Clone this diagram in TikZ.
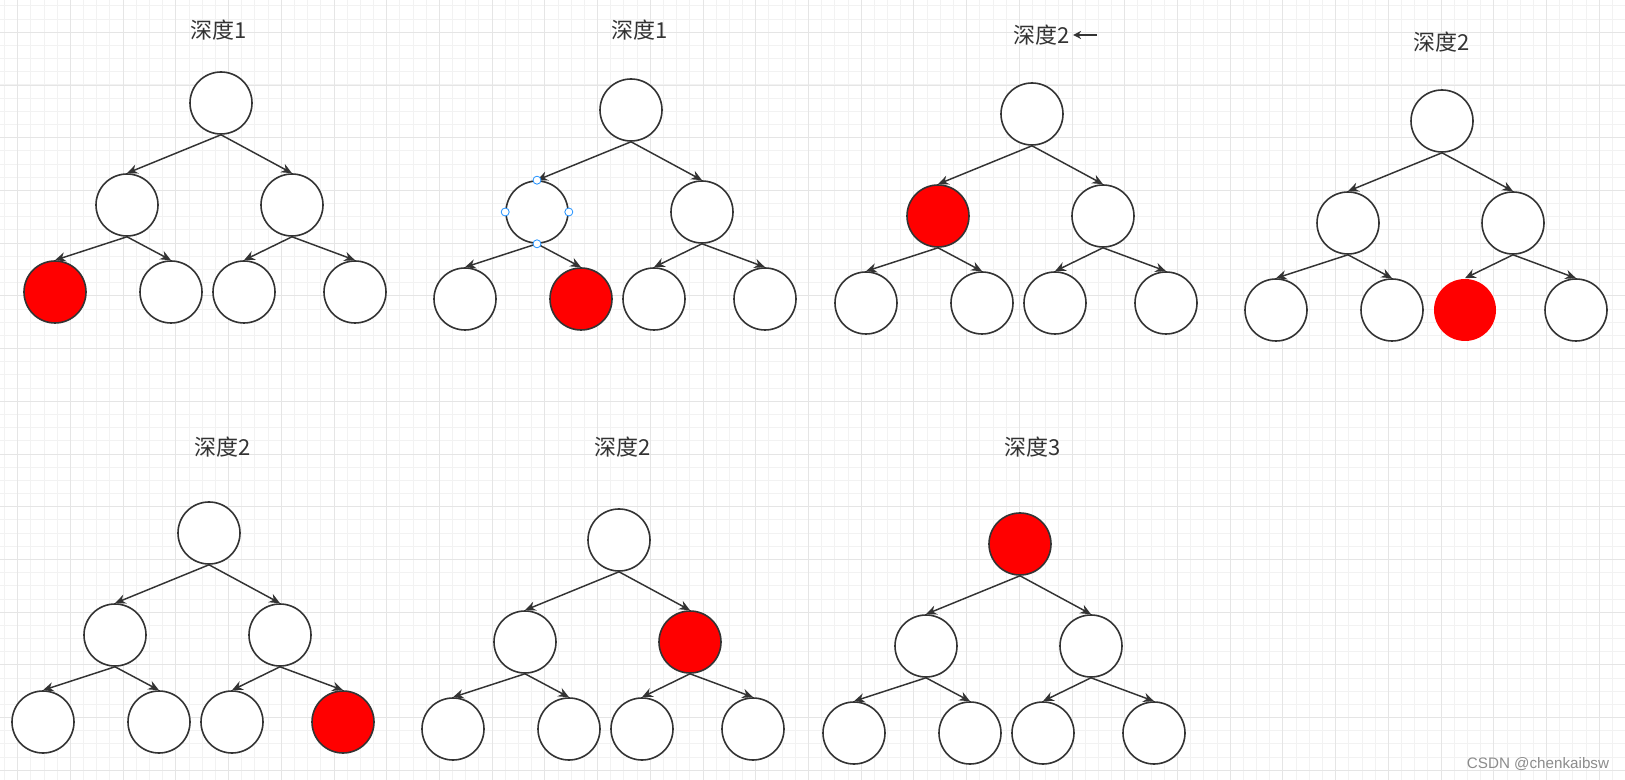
\documentclass[tikz,border=0pt]{standalone}
\usepackage{fontspec}
\usepackage{tikz}
\usetikzlibrary{arrows.meta}

\newfontfamily\cjk{Noto Sans CJK SC}
\newfontfamily\wmfont{Liberation Sans}
\definecolor{ink}{HTML}{333333}
\definecolor{handleblue}{HTML}{1E90FF}

\tikzset{
  ball/.style={circle, draw=ink, line width=1.2pt, fill=white,
    minimum size=46.5pt, inner sep=0pt},
  hot/.style={ball, fill=red},
  hotbare/.style={ball, fill=red, draw=none},
  link/.style={draw=ink, line width=1.1pt, -{Stealth[length=8pt, width=7pt]}},
  depth/.style={font=\cjk\fontsize{16.5}{19}\selectfont, text=ink, inner sep=2pt},
  minorline/.style={black!5, line width=0.75pt},
  majorline/.style={black!10, line width=0.75pt},
  handle/.style={draw=handleblue, fill=white, line width=0.6pt},
}

% one tree: #1 prefix, #2 root position, #3-#9 styles of r, a, b, aa, ab, ba, bb
\newcommand{\bintree}[9]{
  \begin{scope}[shift={(#2)}]
    \node[#3] (#1r)  at (0, 0) {};
    \node[#4] (#1a)  at (-94, 102) {};
    \node[#5] (#1b)  at (71, 102) {};
    \node[#6] (#1aa) at (-166, 189) {};
    \node[#7] (#1ab) at (-50, 189) {};
    \node[#8] (#1ba) at (23, 189) {};
    \node[#9] (#1bb) at (134, 189) {};
  \end{scope}
  \draw[link] (#1r.south) -- (#1a.north);
  \draw[link] (#1r.south) -- (#1b.north);
  \draw[link] (#1a.south) -- (#1aa.north);
  \draw[link] (#1a.south) -- (#1ab.north);
  \draw[link] (#1b.south) -- (#1ba.north);
  \draw[link] (#1b.south) -- (#1bb.north);
}

\begin{document}
\begin{tikzpicture}[x=0.75pt, y=-0.75pt]
  \useasboundingbox (0, 0) rectangle (1625, 780);
  \fill[white] (0, 0) rectangle (1625, 780);

  % background grid
  \foreach \i in {0, ..., 122}
    \draw[minorline] ({4.5 + 13.18*\i}, 0) -- ++(0, 780);
  \foreach \i in {0, ..., 58}
    \draw[minorline] (0, {5.9 + 13.18*\i}) -- ++(1625, 0);
  \foreach \i in {0, ..., 30}
    \draw[majorline] ({17.7 + 52.72*\i}, 0) -- ++(0, 780);
  \foreach \i in {0, ..., 14}
    \draw[majorline] (0, {32.3 + 52.72*\i}) -- ++(1625, 0);

  % titles
  \node[depth] (h1) at (219, 30) {深度1};
  \node[depth] (h2) at (640, 30) {深度1};
  \node[depth] (h3) at (1042, 35) {深度2};
  \node[depth] (h4) at (1442, 42) {深度2};
  \node[depth] (h5) at (223, 447) {深度2};
  \node[depth] (h6) at (623, 447) {深度2};
  \node[depth] (h7) at (1033, 447) {深度3};

  \coordinate (tail) at (1097, 35);
  \draw[draw=ink, line width=1pt, -{Stealth[length=6pt, width=6pt]}] (tail) -- (h3.east);

  % trees
  \bintree{t1}{221, 103}{ball}{ball}{ball}{hot}{ball}{ball}{ball}
  \bintree{t2}{631, 110}{ball}{ball}{ball}{ball}{hot}{ball}{ball}
  \bintree{t3}{1032, 114}{ball}{hot}{ball}{ball}{ball}{ball}{ball}
  \bintree{t4}{1442, 121}{ball}{ball}{ball}{ball}{ball}{hotbare}{ball}
  \bintree{t5}{209, 533}{ball}{ball}{ball}{ball}{ball}{ball}{hot}
  \bintree{t6}{619, 540}{ball}{ball}{hot}{ball}{ball}{ball}{ball}
  \bintree{t7}{1020, 544}{hot}{ball}{ball}{ball}{ball}{ball}{ball}

  % selection handles
  \foreach \a in {north, south, east, west}
    \draw[handle] (t2a.\a) circle (3pt);

  \node[font=\wmfont\fontsize{11.4}{13}\selectfont, text=black!45] (wm) at (1538, 764)
    {CSDN @chenkaibsw};
\end{tikzpicture}
\end{document}
